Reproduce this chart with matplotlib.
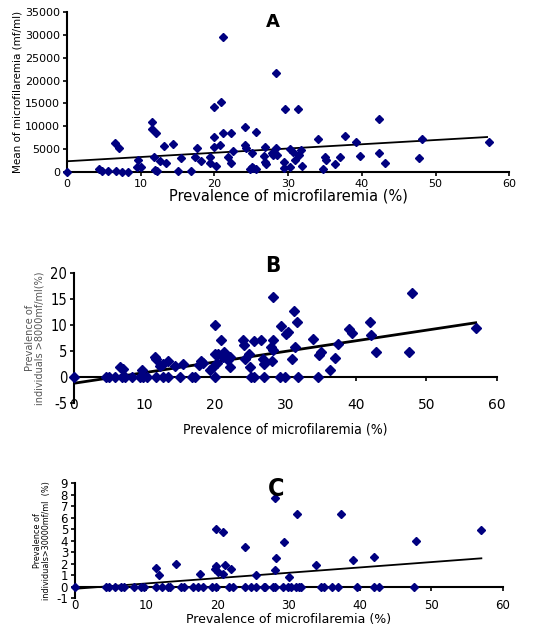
import matplotlib
matplotlib.use('Agg')
import matplotlib.pyplot as plt

plt.rcParams['axes.unicode_minus'] = False
plt.rcParams['font.family'] = 'DejaVu Sans'

# Panel A: mean microfilaremia vs prevalence
prev_a = [0, 4.4, 4.7, 5.6, 6.7, 6.5, 7.0, 7.5, 8.3, 9.6, 9.5, 10.0, 11.5, 11.6, 12.1,
          11.8, 11.9, 12.2, 12.6, 13.4, 13.2, 14.4, 15.1, 15.5, 16.8, 17.6, 17.4, 18.2,
          19.4, 19.4, 20.0, 20.0, 19.9, 20.2, 20.7, 20.9, 21.2, 21.2, 22.2, 21.9, 22.2,
          22.5, 24.2, 24.2, 24.3, 25.1, 25.1, 25.3, 24.9, 25.6, 25.7, 26.9, 26.9, 26.7,
          27.0, 27.8, 28.3, 28.3, 28.5, 28.0, 29.6, 29.5, 29.5, 30.2, 30.3, 30.7, 31.0,
          31.4, 31.5, 31.8, 31.9, 34.1, 34.8, 35.0, 35.2, 36.3, 37.1, 37.7, 39.2, 39.7,
          42.3, 42.3, 43.1, 47.8, 48.1, 57.2]
mean_a = [0, 650, 150, 300, 300, 6400, 5200, 0, 0, 2550, 1160, 1160, 10900, 9300, 8450,
          3200, 430, 150, 2300, 1900, 5700, 6100, 300, 3000, 150, 5200, 3350, 2400,
          3350, 2000, 14260, 7700, 5500, 1400, 5900, 15350, 29550, 8440, 8440, 3200, 2000,
          4650, 9900, 5900, 5200, 4100, 1160, 800, 650, 8800, 650, 5500, 2250, 3500,
          1750, 4100, 21700, 5250, 3700, 3700, 13700, 2250, 800, 1160, 4950, 4450, 2600,
          13700, 3700, 4800, 1400, 7130, 650, 3350, 2600, 1750, 3350, 7860, 6600, 3500,
          11700, 4100, 2000, 3130, 7130, 6480]

# Panel B: prevalence of individuals >8000 mf/ml
prev_b = [0, 4.6, 4.9, 5.8, 6.6, 6.9, 6.8, 7.2, 8.3, 9.4, 9.6, 9.8, 10.3, 11.5, 11.6,
          11.7, 12.2, 12.7, 12.6, 13.3, 13.3, 14.3, 15.0, 15.4, 16.7, 17.2, 17.7, 18.0,
          18.3, 19.3, 19.7, 20.0, 20.0, 20.0, 20.3, 20.5, 20.9, 21.1, 21.3, 21.9, 22.1,
          22.2, 24.0, 24.1, 24.3, 24.9, 25.0, 25.1, 25.5, 25.6, 26.6, 26.8, 26.9, 27.0,
          28.0, 28.2, 28.2, 28.1, 28.3, 29.4, 29.2, 29.9, 30.1, 30.4, 30.9, 31.2, 31.4,
          31.6, 31.8, 33.9, 34.6, 34.8, 35.0, 36.3, 37.0, 37.4, 39.0, 39.4, 42.0, 42.1,
          42.9, 47.6, 47.9, 57.0]
pct_b = [0, 0, 0, 0, 1.9, 1.6, 0, 0, 0, 0, 1.3, 0, 0, 3.9, 3.4,
         0, 2.1, 2.5, 0, 3.0, 0, 2.1, 0, 2.5, 0, 0, 2.3, 3.1,
         2.7, 1.4, 1.9, 10.0, 4.5, 0, 2.6, 4.4, 7.1, 3.9, 4.8, 3.2, 3.9,
         1.9, 7.1, 6.1, 3.5, 4.4, 1.9, 0, 6.9, 0, 7.2, 3.5, 2.5, 0,
         5.8, 15.4, 7.2, 3.1, 5.2, 9.8, 0, 0, 8.3, 8.7, 3.5, 12.6, 5.8,
         10.5, 0, 7.4, 0, 4.2, 4.8, 1.4, 3.7, 6.3, 9.2, 8.4, 10.6, 8.1,
         4.8, 4.8, 16.1, 9.4]

# Panel C: prevalence of individuals >30000 mf/ml
prev_c = [0, 4.3, 4.7, 5.6, 6.5, 6.9, 8.2, 9.3, 9.7, 11.3, 12.2, 13.0, 13.3, 14.8, 15.3,
          16.5, 17.3, 17.9, 19.2, 19.8, 21.6, 22.2, 23.9, 24.7, 25.4, 26.5, 26.7, 27.7,
          28.0, 29.2, 29.9, 30.3, 31.0, 31.4, 31.7, 34.5, 34.9, 36.0, 36.9, 39.5, 41.9,
          42.7, 47.5,
          11.3, 11.8, 14.2, 17.5, 19.8, 19.8, 19.7, 20.1, 20.8, 20.8, 21.1, 21.9, 23.9,
          25.4, 28.0, 28.2, 28.0, 29.3, 30.0, 31.2, 33.8, 37.3, 39.0, 41.9, 47.9, 57.0]
pct_c = [0] * 43 + [1.6, 1.0, 2.0, 1.1, 5.0, 1.8, 1.5, 1.3, 4.7, 1.1, 1.9, 1.5, 3.4,
                    1.0, 7.7, 2.5, 1.4, 3.9, 0.8, 6.3, 1.9, 6.3, 2.3, 2.6, 4.0, 4.9]

# trend lines (intercept, slope)
trend_a = (2350, 93.0)
trend_b = (-1.2, 0.204)
trend_c = (-0.2, 0.0465)

xticks = list(range(0, 61, 10))
yticks_b = list(range(-5, 21, 5))

navy = '#000080'
cond = dict(family='DejaVu Sans', stretch='condensed')
fig = plt.figure(figsize=(5.4, 6.31), dpi=100)

# ---------- A ----------
ax1 = fig.add_axes([0.124, 0.7274, 0.819, 0.2536])
ax1.plot(prev_a, mean_a, 'D', color=navy, ms=4.2, clip_on=False, zorder=3)
ax1.plot([0, 57], [trend_a[0], trend_a[0] + trend_a[1] * 57], color='black', lw=1.3)
ax1.set_xlim(0, 60)
ax1.set_ylim(0, 35000)
ax1.set_xticks(xticks)
ax1.set_yticks(range(0, 35001, 5000))
ax1.tick_params(labelsize=8, length=3, width=1.2, pad=2)
ax1.set_xlabel('Prevalence of microfilaremia (%)', fontsize=10.5, labelpad=0)
ax1.set_ylabel('Mean of microfilaremia (mf/ml)', fontsize=7.5, labelpad=2)
ax1.text(0.465, 0.94, 'A', transform=ax1.transAxes, fontsize=13, fontweight='bold',
         ha='center', va='center')

# ---------- B ----------
ax2 = fig.add_axes([0.137, 0.3613, 0.783, 0.2061])
ax2.plot(prev_b, pct_b, 'D', color=navy, ms=4.6, clip_on=False, zorder=3)
ax2.plot([0, 57], [trend_b[0], trend_b[0] + trend_b[1] * 57], color='black', lw=2)
ax2.set_xlim(0, 60)
ax2.set_ylim(-5, 20)
ax2.set_xticks(xticks, labels=[str(v) for v in xticks], fontsize=10.5, **cond)
ax2.set_yticks(yticks_b, labels=[str(v) for v in yticks_b], fontsize=10.5, **cond)
ax2.spines['bottom'].set_position(('data', 0))
ax2.tick_params(axis='y', length=3, width=1.2, pad=2)
ax2.tick_params(axis='x', length=3, width=1.2, pad=12)
ax2.text(0.5, -0.205, 'Prevalence of microfilaremia (%)', transform=ax2.transAxes,
         fontsize=10, ha='center', va='center', **cond)
ax2.set_ylabel('Prevalence of\nindividuals >8000mf/ml(%)', fontsize=7, color='#555555',
               labelpad=4, linespacing=1.0)
ax2.text(0.47, 1.05, 'B', transform=ax2.transAxes, fontsize=16, fontweight='bold',
         ha='center', va='center', **cond)

# ---------- C ----------
ax3 = fig.add_axes([0.139, 0.0523, 0.792, 0.1822])
ax3.plot(prev_c, pct_c, 'D', color=navy, ms=4.3, clip_on=False, zorder=3)
ax3.plot([0, 57], [trend_c[0], trend_c[0] + trend_c[1] * 57], color='black', lw=1.3)
ax3.set_xlim(0, 60)
ax3.set_ylim(-1, 9)
ax3.set_xticks(xticks)
ax3.set_yticks(range(-1, 10, 1))
ax3.spines['bottom'].set_position(('data', 0))
ax3.tick_params(axis='y', labelsize=8.5, length=3, width=1.2, pad=2)
ax3.tick_params(axis='x', labelsize=8.5, length=3, width=1.2, pad=6)
ax3.text(0.5, -0.19, 'Prevalence of microfilaremia (%)', transform=ax3.transAxes,
         fontsize=9, ha='center', va='center')
ax3.set_ylabel('Prevalence of\nindividuals>30000mf/ml  (%)', fontsize=6.5,
               labelpad=4, linespacing=1.0, **cond)
ax3.text(0.47, 0.95, 'C', transform=ax3.transAxes, fontsize=18, fontweight='bold',
         ha='center', va='center', **cond)

for ax in (ax1, ax2, ax3):
    ax.spines['top'].set_visible(False)
    ax.spines['right'].set_visible(False)
    ax.spines['left'].set_linewidth(1.5)
    ax.spines['bottom'].set_linewidth(1.5)

fig.savefig('out.png', dpi=100)
